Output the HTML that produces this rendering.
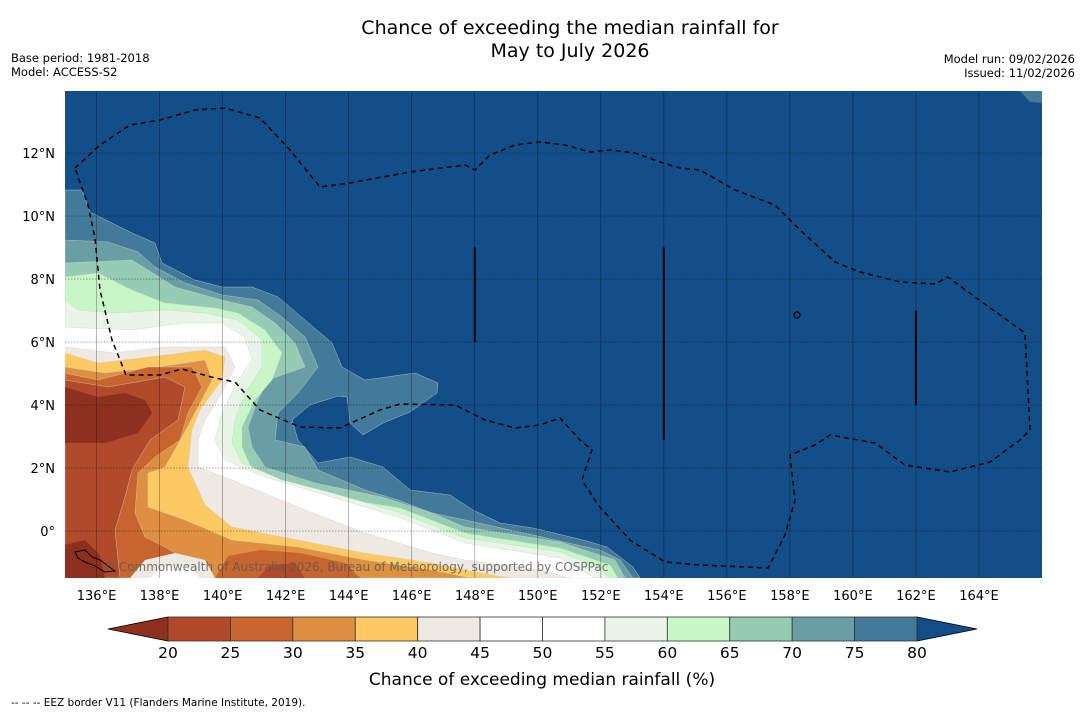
<!DOCTYPE html>
<html><head><meta charset="utf-8">
<style>
body{margin:0;background:#fff;}
svg{display:block;font-family:"DejaVu Sans","Liberation Sans",sans-serif;}
</style></head>
<body>
<svg id="chart" width="1085" height="713" viewBox="0 0 1085 713" xmlns="http://www.w3.org/2000/svg">
<rect width="1085" height="713" fill="#fff"/>
<text x="570" y="34" font-size="19" text-anchor="middle">Chance of exceeding the median rainfall for</text>
<text x="570" y="57" font-size="19" text-anchor="middle">May to July 2026</text>
<text x="11" y="62" font-size="11.5">Base period: 1981-2018</text>
<text x="11" y="76" font-size="11.5">Model: ACCESS-S2</text>
<text x="1075" y="63" font-size="11.5" text-anchor="end">Model run: 09/02/2026</text>
<text x="1075" y="77" font-size="11.5" text-anchor="end">Issued: 11/02/2026</text>
<defs><clipPath id="mapclip"><rect x="65" y="91" width="977" height="487"/></clipPath></defs>
<g id="map" clip-path="url(#mapclip)"></g>
<g id="axes"></g>
<g id="cbar"></g>
<text x="542" y="685" font-size="17" text-anchor="middle">Chance of exceeding median rainfall (%)</text>
<text x="11" y="706" font-size="10.5">--  --  -- EEZ border V11 (Flanders Marine Institute, 2019).</text>
</svg>
<script>
const NS="http://www.w3.org/2000/svg";
// colorbar data
const levels=[20,25,30,35,40,45,50,55,60,65,70,75,80];
const binColors=["#b04a2a","#c8652f","#de9040","#fdc962","#efe9e4","#ffffff","#ffffff","#e8f5e8","#c7f7c6","#97ccb4","#6a9ea5","#437a99"];
const underColor="#8e3020";
const overColor="#144e89";
const lonTicks=[136,138,140,142,144,146,148,150,152,154,156,158,160,162,164];
const latTicks=[0,2,4,6,8,10,12];
// map extent (degrees)
const lonMin=135.0,lonMax=166.0,latMin=-1.49,latMax=13.97;
const X=lon=>65+(lon-lonMin)/(lonMax-lonMin)*977;
const Y=lat=>91+(latMax-lat)/(latMax-latMin)*487;
const CX=v=>168+(v-20)/60*749;
// contour traces (image-traced map geometry), lower-left anchored
const traces=[
 {c:"#437a99",p:[[65,190],[82,190],[90,212],[132,233],[155,243],[162,263],[195,280],[222,287],[252,287],[278,297],[305,320],[332,343],[342,367],[365,380],[415,373],[438,383],[437,393],[410,412],[383,423],[363,435],[350,423],[347,397],[338,396],[310,405],[292,420],[298,440],[318,463],[350,457],[383,467],[410,490],[450,495],[473,510],[500,523],[533,528],[583,540],[607,547],[633,567],[640,578]]},
 {c:"#6a9ea5",p:[[65,240],[108,242],[138,252],[155,267],[185,283],[222,295],[258,300],[282,317],[305,337],[318,367],[298,393],[278,413],[275,440],[305,447],[318,470],[365,490],[398,500],[432,513],[465,520],[533,535],[600,550],[620,560],[633,578]]},
 {c:"#97ccb4",p:[[65,263],[132,260],[148,270],[175,287],[222,300],[252,307],[275,323],[295,343],[305,367],[268,380],[258,400],[248,427],[252,447],[265,467],[315,483],[382,497],[432,513],[465,527],[560,542],[615,560],[625,578]]},
 {c:"#c7f7c6",p:[[65,277],[98,273],[132,290],[165,303],[215,308],[238,313],[265,330],[282,353],[272,380],[255,400],[242,427],[242,447],[250,465],[270,480],[320,495],[400,508],[465,533],[560,548],[610,565],[618,578]]},
 {c:"#e8f5e8",p:[[65,300],[78,310],[115,313],[165,310],[205,313],[238,320],[262,340],[262,367],[245,393],[235,420],[232,443],[242,463],[282,480],[332,493],[398,512],[465,538],[560,552],[600,568],[608,578]]},
 {c:"#ffffff",p:[[65,327],[132,330],[182,323],[222,323],[245,337],[252,360],[238,380],[222,413],[215,440],[225,460],[265,477],[332,497],[398,517],[465,543],[560,558],[595,578]]},
 {c:"#efe9e4",p:[[65,347],[115,353],[165,347],[225,347],[235,367],[222,393],[205,420],[198,440],[198,467],[232,480],[298,507],[365,533],[432,553],[465,560],[540,570],[570,578]]},
 {c:"#fdc962",p:[[65,353],[98,363],[148,357],[205,350],[225,357],[222,380],[200,410],[192,430],[188,467],[205,505],[232,527],[298,540],[365,553],[432,563],[465,570],[510,578]]},
 {c:"#de9040",p:[[65,367],[105,373],[158,367],[205,360],[212,380],[198,407],[182,437],[165,467],[148,473],[148,507],[185,520],[232,540],[298,547],[365,560],[432,570],[470,578]]},
 {c:"#c8652f",p:[[65,373],[98,380],[148,367],[192,367],[202,387],[188,413],[180,440],[155,457],[138,473],[135,513],[145,537],[165,547],[192,563],[215,578]]},
 {c:"#b04a2a",p:[[65,380],[108,387],[165,377],[185,387],[178,420],[150,440],[132,470],[125,497],[115,530],[120,578]]}
];
const blobs=[
 {c:"#8e3020",p:[[65,387],[98,397],[125,393],[145,400],[152,413],[138,433],[105,443],[65,443]]},
 {c:"#8e3020",p:[[65,545],[85,540],[100,555],[105,578],[65,578]]},
 {c:"#c8652f",p:[[215,578],[228,556],[260,550],[300,553],[345,563],[360,578]]},
 {c:"#b04a2a",p:[[258,578],[270,565],[295,563],[305,578]]},
 {c:"#efe9e4",p:[[130,578],[145,560],[175,553],[205,560],[215,578]]},
 {c:"#ffffff",p:[[150,578],[165,566],[190,566],[200,578]]},
 {c:"#437a99",p:[[1020,91],[1042,91],[1042,103],[1030,102]]}
];
const eez=[[75,168],[100,145],[130,125],[160,120],[195,110],[225,108],[260,118],[290,150],[320,187],[350,183],[410,172],[465,165],[475,170],[490,155],[515,145],[540,142],[565,145],[590,152],[610,150],[635,153],[660,162],[680,168],[700,170],[735,190],[775,205],[800,230],[835,262],[860,272],[900,282],[935,284],[948,277],[975,297],[1025,333],[1030,430],[1020,440],[990,462],[950,472],[905,465],[875,443],[830,435],[815,445],[790,455],[795,500],[785,535],[768,568],[700,565],[665,562],[630,540],[598,505],[582,480],[592,450],[580,440],[560,418],[540,425],[515,428],[485,420],[455,405],[400,404],[380,410],[340,428],[300,427],[260,410],[235,382],[215,378],[182,369],[160,375],[126,375],[112,340],[100,290],[95,238],[88,205],[75,168]];
function el(t,a,parent){const e=document.createElementNS(NS,t);for(const k in a)e.setAttribute(k,a[k]);parent.appendChild(e);return e;}
const map=document.getElementById('map');
const bg=el('rect',{x:65,y:91,width:977,height:487,fill:overColor},map);


traces.forEach((t,i)=>{
 const pts=t.p.map(q=>q.join(',')).concat(['65,578']).join(' ');
 const pg=el('polygon',{points:pts,fill:t.c,stroke:"#cfcfcf","stroke-width":0.4},map);
 
 
});
blobs.forEach(b=>{
 const pg=el('polygon',{points:b.p.map(q=>q.join(',')).join(' '),fill:b.c},map);
 
 
});
// gridlines
lonTicks.forEach(l=>{const g=el('line',{x1:X(l),x2:X(l),y1:91,y2:578,stroke:"rgba(0,0,0,0.35)","stroke-width":0.8},map);
 
 });
latTicks.forEach(l=>{const g=el('line',{x1:65,x2:1042,y1:Y(l),y2:Y(l),stroke:"rgba(0,0,0,0.4)","stroke-width":0.8,"stroke-dasharray":"1.5,1.5"},map);
 
 });
// eez border
const ez=el('polyline',{points:eez.map(q=>q.join(',')).join(' '),fill:"none",stroke:"#000","stroke-width":1.5,"stroke-dasharray":"5,4"},map);


// island lines / marks
[[148,9,6],[154,9,2.9],[162,7,4]].forEach(s=>{const ln=el('line',{x1:X(s[0]),x2:X(s[0]),y1:Y(s[1]),y2:Y(s[2]),stroke:"#000","stroke-width":2},map);
 
 });
const isl=el('circle',{cx:797,cy:315,r:3,fill:"none",stroke:"#000","stroke-width":1.2},map);


const png=el('path',{d:"M75 552 L85 550 L92 557 L100 560 L108 566 L115 571 L105 572 L95 566 L85 562 L78 558 Z",fill:"none",stroke:"#000","stroke-width":1},map);


const cp=el('text',{x:103,y:571,"font-size":12,fill:"rgba(90,90,90,0.85)"},map);
cp.textContent="© Commonwealth of Australia 2026, Bureau of Meteorology, supported by COSPPac";


// axes labels
const ax=document.getElementById('axes');
lonTicks.forEach(l=>{const t=el('text',{x:X(l),y:600,"font-size":13,"text-anchor":"middle"},ax);t.textContent=l+"°E";
 
 });
latTicks.forEach(l=>{const t=el('text',{x:55,y:Y(l)+5,"font-size":13,"text-anchor":"end"},ax);t.textContent=l===0?"0°":l+"°N";
 
 });
// colorbar
const cb=document.getElementById('cbar');
const y0=617,y1=641;
const lt=el('polygon',{points:`108,629 ${CX(20)},${y0} ${CX(20)},${y1}`,fill:underColor,stroke:"#000","stroke-width":0.8},cb);


const rt=el('polygon',{points:`977,629 ${CX(80)},${y0} ${CX(80)},${y1}`,fill:overColor,stroke:"#000","stroke-width":0.8},cb);


binColors.forEach((c,i)=>{const r=el('rect',{x:CX(levels[i]),y:y0,width:CX(levels[i+1])-CX(levels[i]),height:y1-y0,fill:c,stroke:"#333","stroke-width":0.8},cb);
 
 });
levels.forEach(v=>{const t=el('text',{x:CX(v),y:658,"font-size":15.5,"text-anchor":"middle"},cb);t.textContent=v;
 
 });
</script>
</body></html>
